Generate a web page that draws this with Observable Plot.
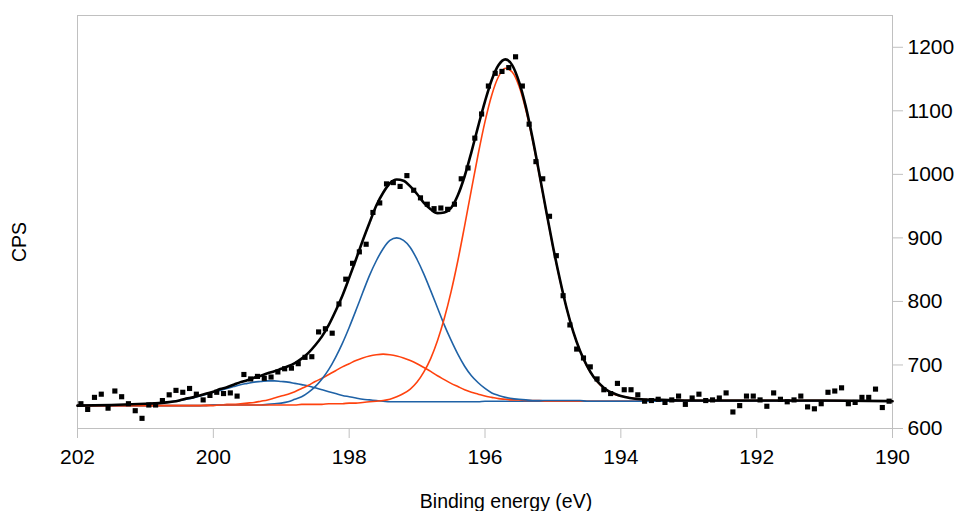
<!DOCTYPE html>
<html>
<head>
<meta charset="utf-8">
<script src="https://cdn.jsdelivr.net/npm/d3@7"></script>
<script src="https://cdn.jsdelivr.net/npm/@observablehq/plot@0.6"></script>
<style>
  html, body { margin: 0; padding: 0; background: #ffffff; }
  #chart { width: 958px; height: 511px; }
</style>
</head>
<body>
<div id="chart"></div>
<script>
// Measured spectrum (binding energy in eV, counts per second)
const energy = [
  201.95, 201.85, 201.75, 201.65, 201.55, 201.45, 201.35, 201.25, 201.15, 201.05,
  200.95, 200.85, 200.75, 200.65, 200.55, 200.45, 200.35, 200.25, 200.15, 200.05,
  199.95, 199.85, 199.75, 199.65, 199.55, 199.45, 199.35, 199.25, 199.15, 199.05,
  198.95, 198.85, 198.75, 198.65, 198.55, 198.45, 198.35, 198.25, 198.15, 198.05,
  197.95, 197.85, 197.75, 197.65, 197.55, 197.45, 197.35, 197.25, 197.15, 197.05,
  196.95, 196.85, 196.75, 196.65, 196.55, 196.45, 196.35, 196.25, 196.15, 196.05,
  195.95, 195.85, 195.75, 195.65, 195.55, 195.45, 195.35, 195.25, 195.15, 195.05,
  194.95, 194.85, 194.75, 194.65, 194.55, 194.45, 194.35, 194.25, 194.15, 194.05,
  193.95, 193.85, 193.75, 193.65, 193.55, 193.45, 193.35, 193.25, 193.15, 193.05,
  192.95, 192.85, 192.75, 192.65, 192.55, 192.45, 192.35, 192.25, 192.15, 192.05,
  191.95, 191.85, 191.75, 191.65, 191.55, 191.45, 191.35, 191.25, 191.15, 191.05,
  190.95, 190.85, 190.75, 190.65, 190.55, 190.45, 190.35, 190.25, 190.15, 190.05
];
const counts = [
  639, 630, 649, 654, 632, 659, 650, 639, 628, 616,
  637, 637, 644, 653, 660, 657, 663, 654, 645, 652,
  657, 655, 656, 651, 685, 678, 682, 679, 681, 689,
  694, 695, 702, 712, 713, 752, 757, 750, 796, 835,
  860, 878, 890, 940, 955, 985, 987, 981, 998, 975,
  963, 953, 946, 947, 945, 953, 993, 1010, 1057, 1095,
  1139, 1159, 1162, 1168, 1185, 1139, 1079, 1020, 993, 934,
  872, 809, 763, 725, 711, 697, 678, 661, 655, 671,
  661, 661, 653, 643, 644, 646, 641, 645, 651, 638,
  648, 654, 644, 645, 648, 656, 626, 636, 651, 651,
  645, 635, 656, 646, 642, 645, 651, 634, 631, 639,
  657, 659, 664, 639, 641, 649, 649, 662, 633, 643
];

// Fitted envelope and components
const fitEnergy = [
  202, 201.5, 201, 200.8, 200.5, 200.4, 200.3, 200.2, 200.1, 200,
  199.9, 199.8, 199.7, 199.6, 199.5, 199.4, 199.3, 199.2, 199.1, 199,
  198.9, 198.8, 198.7, 198.6, 198.5, 198.4, 198.3, 198.2, 198.1, 198,
  197.9, 197.8, 197.7, 197.6, 197.5, 197.4, 197.3, 197.2, 197.1, 197,
  196.9, 196.8, 196.7, 196.6, 196.5, 196.4, 196.3, 196.2, 196.1, 196,
  195.9, 195.8, 195.7, 195.6, 195.5, 195.4, 195.3, 195.2, 195.1, 195,
  194.9, 194.8, 194.7, 194.6, 194.5, 194.4, 194.3, 194.2, 194.1, 194,
  193.7, 193.4, 193, 192, 191, 190
];
const fitTotal = [
  636, 637, 639, 640, 644, 647, 649, 652, 655, 658,
  662, 665, 669, 673, 676, 680, 683, 687, 690, 694,
  698, 703, 710, 719, 731, 745, 763, 785, 809, 837,
  866, 896, 924, 951, 971, 986, 992, 990, 981, 969,
  955, 945, 939, 940, 947, 967, 997, 1035, 1076, 1115,
  1149, 1172, 1181, 1172, 1146, 1107, 1057, 1001, 943, 887,
  836, 790, 752, 722, 699, 681, 669, 660, 655, 651,
  646, 645, 644, 644, 644, 643
];
const peakMainRed = [
  636, 636, 636, 636, 636, 636, 636, 636, 636, 636,
  637, 637, 637, 637, 637, 637, 637, 637, 637, 637,
  637, 637, 638, 638, 638, 638, 639, 639, 639, 640,
  640, 641, 642, 643, 644, 646, 650, 655, 662, 673,
  689, 710, 738, 773, 815, 864, 919, 976, 1032, 1083,
  1125, 1154, 1167, 1161, 1139, 1102, 1054, 999, 942, 886,
  835, 790, 752, 722, 698, 681, 668, 660, 654, 651,
  646, 645, 644, 644, 644, 643
];
const peakMainBlue = [
  636, 636, 636, 636, 636, 636, 636, 636, 636, 637,
  637, 637, 637, 637, 637, 637, 637, 638, 639, 640,
  642, 646, 650, 657, 666, 678, 693, 712, 734, 759,
  786, 814, 841, 864, 883, 896, 900, 896, 885, 866,
  843, 817, 790, 763, 739, 717, 698, 683, 672, 663,
  656, 652, 649, 647, 646, 645, 644, 644, 644, 644,
  644, 644, 644, 644, 643, 643, 643, 643, 643, 643,
  643, 643, 643, 643, 643, 643
];
const peakSmallRed = [
  636, 636, 636, 636, 636, 636, 636, 636, 637, 637,
  637, 638, 638, 639, 640, 641, 643, 645, 648, 651,
  654, 658, 663, 668, 674, 679, 685, 691, 697, 702,
  707, 711, 714, 716, 717, 716, 714, 711, 707, 702,
  696, 690, 683, 677, 671, 666, 661, 657, 654, 651,
  649, 647, 646, 645, 645, 644, 644, 644, 643, 643,
  643, 643, 643, 643, 643, 643, 643, 643, 643, 643,
  643, 643, 643, 643, 643, 643
];
const peakSmallBlue = [
  636, 636, 638, 640, 644, 646, 648, 651, 654, 657,
  660, 663, 666, 669, 671, 673, 674, 675, 675, 674,
  673, 671, 669, 667, 664, 661, 658, 655, 652, 650,
  648, 646, 645, 644, 643, 642, 642, 642, 642, 642,
  642, 642, 642, 642, 642, 642, 642, 642, 642, 643,
  643, 643, 643, 643, 643, 643, 643, 643, 643, 643,
  643, 643, 643, 643, 643, 643, 643, 643, 643, 643,
  643, 643, 643, 643, 643, 643
];

const xTicks = [202, 200, 198, 196, 194, 192, 190];
const yTicks = [600, 700, 800, 900, 1000, 1100, 1200];
const xTitle = "Binding energy (eV)";
const yTitle = "CPS";

const points = energy.map((e, i) => ({e, v: counts[i]}));
const fit = fitEnergy.map((e, i) => ({
  e, total: fitTotal[i], c1: peakMainRed[i], c2: peakMainBlue[i], c3: peakSmallRed[i], c4: peakSmallBlue[i]
}));

const RED = "#ff420e";
const BLUE = "#1f62a6";
const GRID = "#c0c0c0";

const chart = Plot.plot({
  width: 958, height: 511,
  marginLeft: 77, marginRight: 66, marginTop: 15, marginBottom: 83,
  style: {fontFamily: "'Liberation Sans', Arial, sans-serif", background: "#ffffff", color: "#000"},
  x: {domain: [202, 190]},
  y: {domain: [600, 1250]},
  marks: [
    Plot.frame({stroke: GRID, strokeWidth: 1}),
    Plot.axisX({ticks: xTicks, tickSize: 10, tickPadding: 11, fontSize: 21, stroke: GRID, fill: "#000", label: null, tickFormat: d => String(d)}),
    Plot.axisY({anchor: "right", ticks: yTicks, tickSize: 10, tickPadding: 5, fontSize: 21, stroke: GRID, fill: "#000", label: null, tickFormat: d => String(d)}),
    Plot.line(fit, {x: "e", y: "c4", stroke: BLUE, strokeWidth: 1.6, curve: "monotone-x"}),
    Plot.line(fit, {x: "e", y: "c3", stroke: RED, strokeWidth: 1.6, curve: "monotone-x"}),
    Plot.line(fit, {x: "e", y: "c2", stroke: BLUE, strokeWidth: 1.6, curve: "monotone-x"}),
    Plot.line(fit, {x: "e", y: "c1", stroke: RED, strokeWidth: 1.6, curve: "monotone-x"}),
    Plot.line(fit, {x: "e", y: "total", stroke: "#000", strokeWidth: 2.6, curve: "monotone-x"}),
    Plot.dot(points, {x: "e", y: "v", symbol: "square", r: 2.9, fill: "#000", stroke: null}),
    Plot.text([xTitle], {text: d => d, frameAnchor: "bottom", dx: 21, dy: 79, fontSize: 19.5, fill: "#000"}),
    Plot.text([yTitle], {text: d => d, frameAnchor: "left", dx: -58, dy: 40, rotate: -90, fontSize: 19.5, fill: "#000"})
  ]
});

document.getElementById("chart").appendChild(chart);
</script>
</body>
</html>
